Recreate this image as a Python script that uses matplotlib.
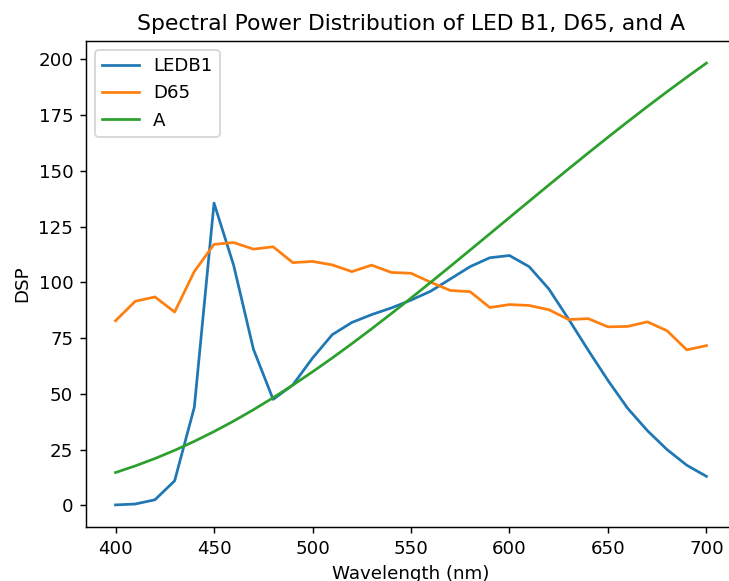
import matplotlib.pyplot as plt

wavelength = list(range(400, 701, 10))

led_b1 = [0.2, 0.6, 2.5, 11, 44, 135.5, 107.5, 70, 47.5, 54, 66, 76.5, 82, 85.5, 88.5, 92, 96,
          101.5, 107, 111, 112, 107, 97, 83.5, 69.5, 56, 43.5, 33.5, 25, 18, 13]
d65 = [82.75, 91.49, 93.43, 86.68, 104.86, 117.01, 117.81, 114.86, 115.92, 108.81, 109.35,
       107.80, 104.79, 107.69, 104.41, 104.05, 100.00, 96.33, 95.79, 88.69, 90.01, 89.60,
       87.70, 83.29, 83.70, 80.03, 80.21, 82.28, 78.28, 69.72, 71.61]
illum_a = [14.71, 17.68, 20.99, 24.67, 28.70, 33.09, 37.81, 42.87, 48.24, 53.91, 59.86,
           66.06, 72.50, 79.13, 85.95, 92.91, 100.00, 107.18, 114.44, 121.73, 129.04,
           136.35, 143.62, 150.84, 157.98, 165.03, 171.96, 178.77, 185.43, 191.93, 198.26]

# the reference looks like a crop of a ~131 dpi figure
dpi = 131
W, H = 729, 581
fig = plt.figure(figsize=(W / dpi, H / dpi), dpi=dpi)
ax = fig.add_axes([86 / W, 54 / H, 650 / W, 486 / H])

ax.plot(wavelength, led_b1, label='LEDB1')
ax.plot(wavelength, d65, label='D65')
ax.plot(wavelength, illum_a, label='A')

ax.set_xlabel('Wavelength (nm)')
ax.set_ylabel('DSP')
ax.set_title('Spectral Power Distribution of LED B1, D65, and A')
ax.legend(loc='upper left')
# right edge falls outside the cropped picture
ax.spines['right'].set_visible(False)

fig.savefig('out.png', dpi=dpi)
